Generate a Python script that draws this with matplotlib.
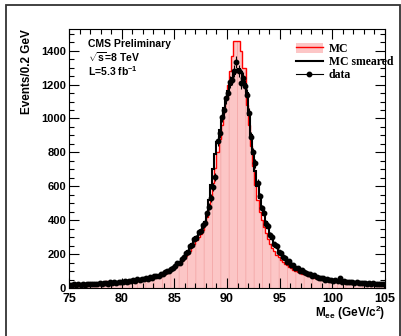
import numpy as np
import matplotlib
matplotlib.use("Agg")
import matplotlib.pyplot as plt
from matplotlib.patches import Rectangle, Patch
from matplotlib.lines import Line2D
from matplotlib.ticker import MultipleLocator

# ---- data (Events / 0.2 GeV), bins from 75 to 105 GeV ----
x_min, x_max, bin_w = 75.0, 105.0, 0.2

mc = [17,18,18,19,19, 19,20,20,21,21, 22,22,23,23,24, 25,26,42,30,28,
      29,30,31,32,33, 34,36,37,39,40, 42,44,45,47,49, 51,53,55,58,60,
      63,67,70,75,80, 85,90,97,104,112, 122,133,144,157,170, 186,203,220,240,262,
      285,300,320,345,372, 420,470,540,620,710, 800,880,960,1040,1120,
      1200,1280,1370,1455,1460, 1455,1400,1300,1300,1080,
      960,840,720,610,520, 450,400,358,322,290, 262,238,216,196,180,
      166,154,143,133,124, 116,109,102,96,90, 85,80,76,72,68,
      64,61,58,55,52, 50,48,46,44,42, 41,39,38,37,36, 35,34,33,32,31,
      30,29,29,28,27, 27,26,26,25,25, 24,24,23,23,22]

mc_smeared = [19,19,19,20,20, 20,21,21,22,22, 23,23,24,25,25, 26,27,28,29,30,
              31,32,33,34,35, 36,38,39,41,42, 44,46,47,49,51, 53,55,58,60,63,
              66,70,74,79,84, 90,96,103,111,120, 132,143,155,168,183,
              200,218,238,258,280, 300,318,338,362,390, 440,520,610,700,790,
              860,930,1000,1060,1110, 1160,1200,1240,1265,1285,
              1290,1275,1245,1205,1150, 1020,900,790,690,600,
              530,475,430,390,355, 320,292,265,240,220, 202,186,172,160,150,
              140,130,121,113,106, 100,94,88,83,78, 73,69,65,62,59,
              56,53,51,49,47, 45,43,42,40,39, 38,37,36,35,34,
              33,32,31,30,30, 29,28,28,27,26, 25,25,24,24,23]

data = [20,17,22,19,21, 18,23,20,24,21, 25,22,26,24,28, 24,29,27,26,33,
        30,35,29,38,33, 35,41,37,44,39, 47,42,55,48,53, 51,58,56,63,60,
        68,72,70,83,80, 92,99,100,115,118, 130,148,150,172,180,
        205,213,245,252,290, 295,330,335,370,385, 440,480,530,595,655,
        870,915,1010,1050,1120, 1150,1215,1230,1280,1335,
        1280,1210,1240,1190,1140, 1030,890,800,735,620,
        540,470,445,380,365, 315,300,258,250,212, 205,180,178,155,158,
        138,135,118,120,100, 104,92,90,80,82, 70,74,62,60,58,
        58,50,54,46,49, 43,47,40,58,38, 40,35,38,33,36,
        31,34,29,32,28, 30,26,29,24,27, 26,22,25,21,24]

legend_labels = ["MC", "MC smeared", "data"]
text_lines = ["CMS Preliminary", r"$\sqrt{\mathrm{s}}$=8 TeV", r"L=5.3 fb$^{\mathregular{-1}}$"]

# ---- figure ----
W, H, DPI = 402, 336, 100
fig = plt.figure(figsize=(W / DPI, H / DPI), dpi=DPI)
plt.rcParams['font.family'] = ['Liberation Sans', 'DejaVu Sans']
plt.rcParams['mathtext.fontset'] = 'custom'
plt.rcParams['mathtext.rm'] = 'Liberation Sans:bold'
plt.rcParams['mathtext.it'] = 'Liberation Sans:bold'
plt.rcParams['hatch.linewidth'] = 0.6

# outer frame
fig.patches.append(Rectangle((6 / W, -0.05), (400 - 6) / W, 331 / H + 0.05,
                             transform=fig.transFigure, fill=False,
                             edgecolor='#333333', linewidth=1.3))

ax = fig.add_axes([69 / W, (H - 288) / H, (385 - 69) / W, (288 - 29) / H])

nb = len(mc)
edges = np.linspace(x_min, x_max, nb + 1)
centers = 0.5 * (edges[:-1] + edges[1:])

ax.stairs(mc, edges, fill=True, facecolor='#fcc6c6', edgecolor='#f4a8a8',
          hatch='||', linewidth=0, zorder=1)
ax.stairs(mc, edges, color='#ff0000', linewidth=1.0, zorder=2)
ax.stairs(mc_smeared, edges, color='black', linewidth=1.5, zorder=3)
d = np.array(data, dtype=float)
ax.errorbar(centers, d, yerr=np.sqrt(d), fmt='o', ms=3.2, color='black',
            elinewidth=0.8, capsize=0, zorder=4)

ax.set_xlim(x_min, x_max)
ax.set_ylim(0, 1528)

ax.xaxis.set_major_locator(MultipleLocator(5))
ax.xaxis.set_minor_locator(MultipleLocator(1))
ax.yaxis.set_major_locator(MultipleLocator(200))
ax.yaxis.set_minor_locator(MultipleLocator(50))
ax.tick_params(which='both', direction='in', top=True, right=True, width=0.8)
ax.tick_params(which='major', length=7)
ax.tick_params(which='minor', length=3.5)
ax.tick_params(axis='x', labelsize=9, pad=3.5)
ax.tick_params(axis='y', labelsize=8, pad=2)
for lab in ax.get_xticklabels() + ax.get_yticklabels():
    lab.set_fontweight('bold')
for s in ax.spines.values():
    s.set_linewidth(0.8)

ax.set_ylabel("Events/0.2 GeV", fontsize=8.5, fontweight='bold', labelpad=6, loc='top')
fig.text(385 / W, (H - 313) / H, r"M$_{\mathregular{ee}}$ (GeV/c$^{\mathregular{2}}$)",
         ha='right', va='center', fontsize=8.5, fontweight='bold')

for i, t in enumerate(text_lines):
    fig.text(88 / W, (H - (44 + 13.5 * i)) / H, t, ha='left', va='center',
             fontsize=7.5, fontweight='bold')

# legend
handles = [
    (Patch(facecolor='#fcc6c6', edgecolor='none'), Line2D([], [], color='red', lw=1.0)),
    Line2D([], [], color='black', lw=1.5),
    Line2D([], [], color='black', lw=0.8, marker='o', ms=3.2),
]
leg = ax.legend(handles, legend_labels, loc='upper left',
                bbox_to_anchor=((290 - 69) / (385 - 69), (288 - 37) / (288 - 29)),
                frameon=False, handlelength=2.3, handleheight=0.9, labelspacing=0.1,
                borderpad=0, handletextpad=0.5,
                prop={'family': 'Liberation Serif', 'weight': 'bold', 'size': 8.5})

fig.savefig("out.png", dpi=DPI)
